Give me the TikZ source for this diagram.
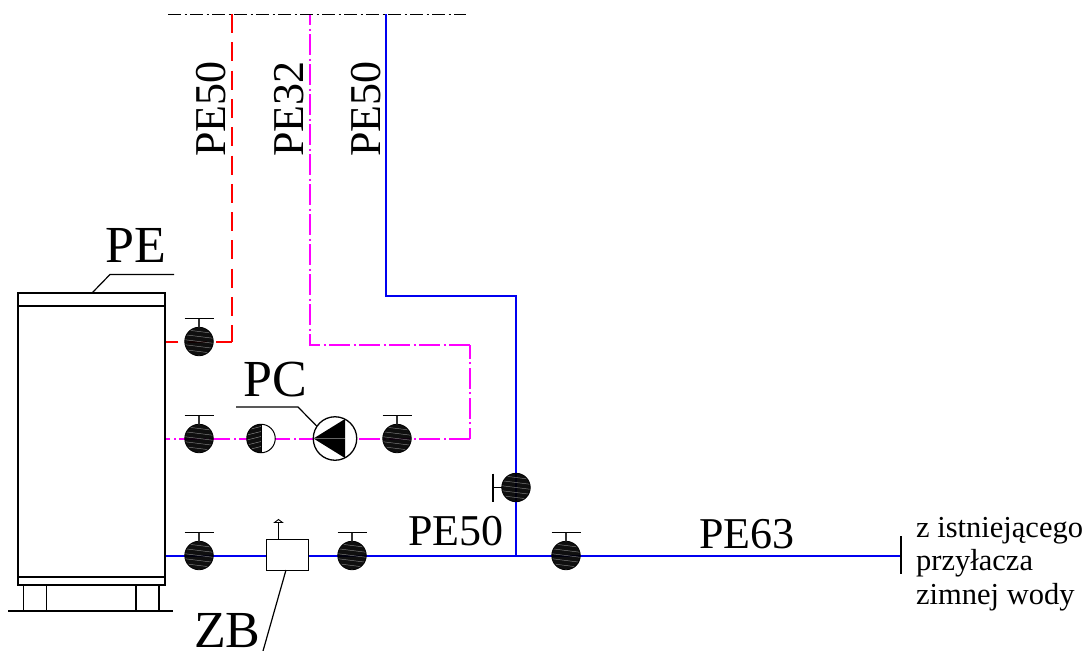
\documentclass[tikz,border=0pt]{standalone}
\usepackage{fontspec}
\setmainfont{Liberation Serif}
\usetikzlibrary{backgrounds}
\definecolor{pipeblue}{RGB}{0,0,240}
\definecolor{pipered}{RGB}{255,0,0}
\definecolor{pipemag}{RGB}{255,0,255}
\tikzset{
  x=1pt,y=-1pt,
  outline/.style={draw=black,line width=1.3pt},
  thick outline/.style={draw=black,line width=1.9pt},
  thin line/.style={draw=black,line width=1.2pt},
  redpipe/.style={draw=pipered,line width=2pt,dash pattern=on 19pt off 9.3pt},
  magpipe/.style={draw=pipemag,line width=2pt,dash pattern=on 21pt off 3.5pt on 2pt off 3.5pt},
  bluepipe/.style={draw=pipeblue,line width=2pt},
  axisline/.style={draw=black,line width=1pt,dash pattern=on 13pt off 3.5pt on 2pt off 3.5pt},
  valve/.style={circle,minimum size=28.5pt,inner sep=0pt,outer sep=0pt,fill=black,fill opacity=.94,draw=black,line width=.8pt,
    path picture={\foreach \d in {-10,-5,...,10}
      {\draw[black!45,line width=.4pt] ([shift={(-16pt,\d pt+2pt)}]path picture bounding box.center) -- ++(32pt,-4pt);}}},
  halfvalve/.style={circle,minimum size=28.5pt,inner sep=0pt,outer sep=0pt,fill=white,draw=black,line width=1pt,
    path picture={\fill[black!94] (path picture bounding box.north west) rectangle (path picture bounding box.south);
      \foreach \d in {-10,-5,...,10}
      {\draw[black!45,line width=.4pt] ([shift={(-16pt,\d pt-2pt)}]path picture bounding box.center) -- ++(16pt,4pt);}}},
  pumpbody/.style={circle,minimum size=43.5pt,inner sep=0pt,outer sep=0pt,fill=white,draw=black,line width=1.3pt},
  bigtext/.style={inner sep=0pt,font=\fontsize{52}{52}\selectfont,anchor=base west},
  midtext/.style={inner sep=0pt,font=\fontsize{44}{44}\selectfont,anchor=base west},
  smalltext/.style={inner sep=0pt,font=\fontsize{30.5}{30.5}\selectfont,anchor=base west},
}
\newcommand{\upvalve}[3]{% name, x, y
  \node[valve] (#1) at (#2,#3) {};
  \coordinate (#1s) at (#2,#3-23);
  \draw[thin line] (#2-14.5,#3-23) -- (#2+14.5,#3-23);
  \draw[line width=1.2pt,draw=black!80] (#1s) -- (#1.north);
}
\begin{document}
\begin{tikzpicture}
\useasboundingbox (0,0) rectangle (1088,651);
\begin{scope}[on background layer]
\fill[white] (0,0) rectangle (1088,651);
\end{scope}
\coordinate (rt) at (232,14);
\coordinate (rc) at (232,341.5);
\coordinate (mt) at (310,14);
\coordinate (mc1) at (310,345);
\coordinate (mc2) at (470,345);
\coordinate (mc3) at (470,438.5);
\coordinate (bt) at (386,14);
\coordinate (bc1) at (386,296);
\coordinate (bc2) at (516,296);
\coordinate (bj) at (516,555.5);
\coordinate (bend) at (901,555.5);
\coordinate (axl) at (168,14);
\coordinate (axr) at (466,14);

% vessel
\node[thick outline,minimum width=147pt,minimum height=292pt,inner sep=0pt,outer sep=0pt,anchor=north west] (vessel) at (18,293) {};
\coordinate (vtopL) at (18,305.7);
\coordinate (vtopR) at (165,305.7);
\coordinate (vbotL) at (18,577);
\coordinate (vbotR) at (165,577);
\draw[thick outline] (vtopL) -- (vtopR);
\draw[outline] (vbotL) -- (vbotR);
\foreach \x in {23.7,46.7,136,159} \draw[thin line] (\x,585) -- (\x,611);
\draw[thin line] (8,611) -- (173,611);
\draw[thin line] (92,293) -- (110,274.5) -- (174,274.5);

% valves and fittings
\upvalve{vr}{199}{341.5}
\upvalve{vm}{199}{438.5}
\upvalve{vmb}{397}{438.5}
\upvalve{vb}{199}{555.5}
\upvalve{vbb}{352}{555.5}
\upvalve{vc}{566}{555.5}
\node[valve] (vs) at (516,487.5) {};
\draw[thin line] (vs.west) -- (493,487.5);
\draw[thin line] (493,473.5) -- (493,501.5);
\node[halfvalve] (half) at (261,438.5) {};
\draw[line width=1pt] (half.north) -- (half.south);
\node[pumpbody] (pump) at (335,438.5) {};
\coordinate (pt) at (313.5,438.5);
\fill[black] (pt) -- (345,419) -- (345,458) -- cycle;
\draw[black!60,line width=.6pt] (pt) -- (345,438.5);
\draw[thin line] (236,407) -- (298,407) -- (pump.146);
\node[draw=black,line width=1pt,fill=white,minimum width=42pt,minimum height=31pt,inner sep=0pt,outer sep=0pt,anchor=north west] (filt) at (266,539) {};
\draw[thin line] (278.5,539) -- (278.5,522);
\draw[line width=.9pt,fill=white] (274.5,522.5) -- (278.5,519.5) -- (282.5,522.5) -- cycle;
\draw[thin line] (286,570) -- (263,651);

% pipes
\begin{scope}[on background layer]
\draw[redpipe] (rt) -- (rc);
\draw[redpipe,dash phase=3pt] (rc) -- (vr.center) -- (vessel.east |- vr.center);
\draw[magpipe,dash phase=10pt] (mt) -- (mc1) -- (mc2);
\draw[magpipe,dash phase=10pt] (mc3) -- (mc2);
\draw[magpipe] (mc3) -- (vmb.center) -- (pump.center) -- (half.center) -- (vm.center) -- (vessel.east |- vm.center);
\draw[bluepipe] (bt) -- (bc1) -- (bc2) -- (vs.center) -- (bj);
\draw[bluepipe] (vessel.east |- vb.center) -- (vb.center) -- (filt.west |- vb.center);
\draw[bluepipe] (filt.east |- vb.center) -- (vbb.center) -- (vc.center) -- (bend);
\draw[axisline] (axl) -- (axr);
\end{scope}
\draw[thin line] (901,536) -- (901,574);

% labels
\node[bigtext] (lpe) at (105,262) {PE};
\node[bigtext] (lpc) at (243,396) {PC};
\node[bigtext] (lzb) at (194,647) {ZB};
\node[midtext] (l50h) at (408,545) {PE50};
\node[midtext] (l63) at (699,548) {PE63};
\node[midtext,rotate=90] (l50a) at (225,157) {PE50};
\node[midtext,rotate=90] (l32) at (303,157) {PE32};
\node[midtext,rotate=90] (l50b) at (380,157) {PE50};
\node[smalltext] (t1) at (916,537) {z istniejącego};
\node[smalltext] (t2) at (916,570) {przyłacza};
\node[smalltext] (t3) at (916,604) {zimnej wody};
\end{tikzpicture}
\end{document}
